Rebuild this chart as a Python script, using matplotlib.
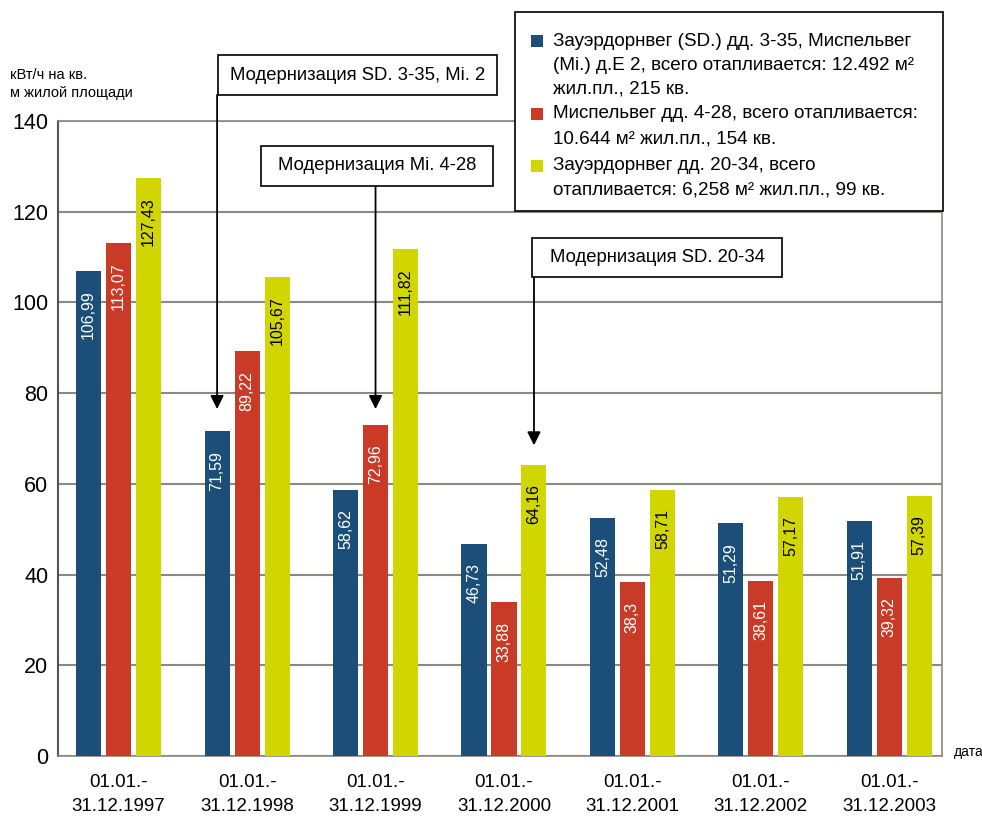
import matplotlib
matplotlib.use("Agg")
import matplotlib.pyplot as plt
from matplotlib.patches import Rectangle
import numpy as np

plt.rcParams['font.family'] = ['Liberation Sans', 'DejaVu Sans']

periods = ["01.01.-\n31.12.1997", "01.01.-\n31.12.1998", "01.01.-\n31.12.1999",
           "01.01.-\n31.12.2000", "01.01.-\n31.12.2001", "01.01.-\n31.12.2002",
           "01.01.-\n31.12.2003"]
sd_3_35 = [106.99, 71.59, 58.62, 46.73, 52.48, 51.29, 51.91]
mi_4_28 = [113.07, 89.22, 72.96, 33.88, 38.3, 38.61, 39.32]
sd_20_34 = [127.43, 105.67, 111.82, 64.16, 58.71, 57.17, 57.39]

series_lines = [
    ["Зауэрдорнвег (SD.) дд. 3-35, Миспельвег",
     "(Mi.) д.Е 2, всего отапливается: 12.492 м²",
     "жил.пл., 215 кв."],
    ["Миспельвег дд. 4-28, всего отапливается:",
     "10.644 м² жил.пл., 154 кв."],
    ["Зауэрдорнвег дд. 20-34, всего",
     "отапливается: 6,258 м² жил.пл., 99 кв."],
]
colors = ["#1b4f7a", "#c93a27", "#d2d600"]
label_colors = ["white", "white", "black"]

W, H = 982, 817
fig = plt.figure(figsize=(W / 100, H / 100), dpi=100)


def fx(x):
    return x / W


def fy(y):
    return 1 - y / H


ax = fig.add_axes([fx(58), fy(756), (942 - 58) / W, (756 - 121) / H])

x = np.arange(len(periods))
step = 0.2335
width = 0.195
offsets = [-step, 0, step]
all_series = [sd_3_35, mi_4_28, sd_20_34]

for vals, off, col, lcol in zip(all_series, offsets, colors, label_colors):
    bars = ax.bar(x + off, vals, width=width, color=col, zorder=3)
    for b, v in zip(bars, vals):
        ax.annotate(f"{v:g}".replace(".", ","),
                    xy=(b.get_x() + b.get_width() / 2, v),
                    xytext=(0, -14), textcoords="offset points",
                    ha="center", va="top", rotation=90,
                    fontsize=11.5, color=lcol, zorder=4)

ax.set_xlim(-0.472, 6.41)
ax.set_ylim(0, 140)
ax.set_yticks(range(0, 141, 20))
ax.set_xticks(x)
ax.set_xticklabels(periods, fontsize=13.5, linespacing=1.55)
ax.tick_params(axis="y", length=0, pad=7, labelsize=15.5)
ax.tick_params(axis="x", length=0, pad=13)
ax.grid(axis="y", color="#8a8a80", linewidth=1.5, zorder=0)
for s in ["top", "right", "bottom"]:
    ax.spines[s].set_color("#8a8a80")
    ax.spines[s].set_linewidth(1.2)
ax.spines["left"].set_color("#555555")
ax.spines["left"].set_linewidth(1.5)

fig.text(fx(10), fy(84), "кВт/ч на кв.\nм жилой площади", fontsize=10.5,
         ha="left", va="center", linespacing=1.3)
fig.text(fx(954), fy(752), "дата", fontsize=10, ha="left", va="center")

# Modernisation callouts: framed caption with a downward arrow to the bar
callouts = [
    ("Модернизация SD. 3-35, Mi. 2", (218, 55, 497, 95), 1 - step, 76.5),
    ("Модернизация Mi. 4-28", (261, 146, 493, 186), 2, 76.5),
    ("Модернизация SD. 20-34", (532, 238, 782, 277), 3 + step, 68.5),
]
for text, (x0, y0, x1, y1), bx, tip in callouts:
    fig.patches.append(Rectangle((fx(x0), fy(y1)), (x1 - x0) / W, (y1 - y0) / H,
                                 transform=fig.transFigure, facecolor="white",
                                 edgecolor="black", linewidth=1.2, zorder=5))
    fig.text(fx((x0 + x1) / 2), fy((y0 + y1) / 2), text, fontsize=13.3,
             ha="center", va="center", zorder=6)
    y_start = (756 - y1) / (635 / 140)
    ax.annotate("", xy=(bx, tip), xytext=(bx, y_start),
                arrowprops=dict(arrowstyle="-|>", color="black", lw=1.3,
                                mutation_scale=20, shrinkA=0, shrinkB=0),
                annotation_clip=False, zorder=6)

# Legend panel
fig.patches.append(Rectangle((fx(515), fy(211)), (943 - 515) / W, (211 - 12) / H,
                             transform=fig.transFigure, facecolor="white",
                             edgecolor="black", linewidth=1.2, zorder=5))
legend_rows = [[41, 65, 89], [114, 139], [166, 190]]
for lines, col, ys in zip(series_lines, colors, legend_rows):
    fig.patches.append(Rectangle((fx(531), fy(ys[0] + 6)), 12 / W, 12 / H,
                                 transform=fig.transFigure, facecolor=col,
                                 edgecolor="none", zorder=6))
    for line, yy in zip(lines, ys):
        fig.text(fx(553), fy(yy), line, fontsize=13.6, ha="left", va="center",
                 zorder=6)

fig.savefig("out.png", dpi=100)
